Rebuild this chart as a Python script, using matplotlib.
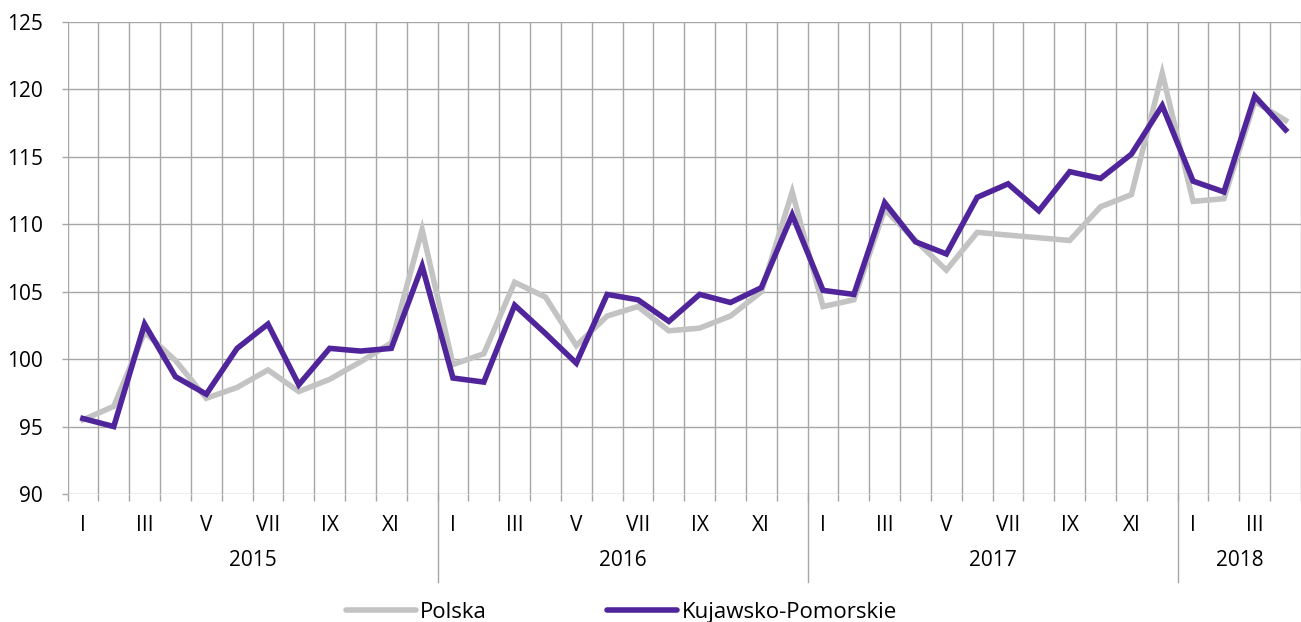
import numpy as np
import matplotlib as mpl
from matplotlib import pyplot as plt
from matplotlib.lines import Line2D

# monthly index values, I 2015 - IV 2018
polska = [95.5, 96.5, 102.0, 99.9, 97.1, 97.9, 99.2, 97.6, 98.5, 99.8, 101.2, 109.6,
          99.6, 100.4, 105.7, 104.6, 101.0, 103.2, 103.9, 102.1, 102.3, 103.2, 105.0, 112.4,
          103.9, 104.4, 111.1, 108.8, 106.6, 109.4, 109.2, 109.0, 108.8, 111.3, 112.2, 121.2,
          111.7, 111.9, 119.1, 117.7]
kujawsko = [95.6, 95.0, 102.6, 98.7, 97.4, 100.8, 102.6, 98.1, 100.8, 100.6, 100.8, 106.9,
            98.6, 98.3, 104.0, 101.9, 99.7, 104.8, 104.4, 102.8, 104.8, 104.2, 105.3, 110.7,
            105.1, 104.8, 111.6, 108.7, 107.8, 112.0, 113.0, 111.0, 113.9, 113.4, 115.2, 118.8,
            113.2, 112.4, 119.5, 117.0]
months = ['I', 'II', 'III', 'IV', 'V', 'VI', 'VII', 'VIII', 'IX', 'X', 'XI', 'XII']
years = ['2015', '2016', '2017', '2018']
y_ticks = [90, 95, 100, 105, 110, 115, 120, 125]

plt.rcParams['font.family'] = ['Open Sans', 'DejaVu Sans']

grid_col = '#a6a6a6'
gray = '#c3c3c3'
purple = '#50259b'
lw = 4.0

fig = plt.figure(figsize=(13.01, 6.22), dpi=100)
ax = fig.add_axes([67.5 / 1301, 128 / 622, (1301 - 67.5) / 1301, 472 / 622])

n = len(polska)
x = np.arange(n)
ax.plot(x, polska, color=gray, lw=lw, solid_joinstyle='miter', zorder=3)
ax.plot(x, kujawsko, color=purple, lw=lw, solid_joinstyle='miter', zorder=4)

ax.set_xlim(-0.5, 39.39)
ax.set_ylim(90, 125)

# grid: boundaries between months, every 5 on y
ax.set_xticks(np.arange(n + 1) - 0.5)
ax.set_xticklabels([])
ax.set_yticks(y_ticks)
ax.set_yticklabels([str(v) for v in y_ticks], fontsize=15)
ax.tick_params(axis='x', length=5, width=1, color=grid_col)
ax.tick_params(axis='y', length=4.5, width=1, color=grid_col, pad=13)
ax.grid(True, color=grid_col, lw=1, zorder=0)
ax.set_axisbelow(True)
for s in ax.spines.values():
    s.set_visible(False)

trans = mpl.transforms.blended_transform_factory(ax.transData, ax.transAxes)
for i in range(n):
    if i % 2 == 0:
        ax.text(i, -0.067, months[i % 12], transform=trans, ha='center', va='center',
                fontsize=15)
for k, yr in enumerate(years):
    start = k * 12
    end = min(start + 12, n)
    ax.text((start + end - 1) / 2, -0.14, yr, transform=trans, ha='center',
            va='center', fontsize=15)
    if k > 0:
        ax.plot([start - 0.5, start - 0.5], [0, -0.186], transform=trans,
                color=grid_col, lw=1, clip_on=False)

handles = [Line2D([], [], color=gray, lw=lw, solid_capstyle='round'),
           Line2D([], [], color=purple, lw=lw, solid_capstyle='round')]
fig.legend(handles, ['Polska', 'Kujawsko-Pomorskie'], loc='center',
           bbox_to_anchor=(0.4775, 0.016), ncol=2, frameon=False, fontsize=16,
           handlelength=3.15, handletextpad=0.2, columnspacing=5.4,
           borderpad=0, borderaxespad=0)

fig.savefig('out.png', dpi=100)
